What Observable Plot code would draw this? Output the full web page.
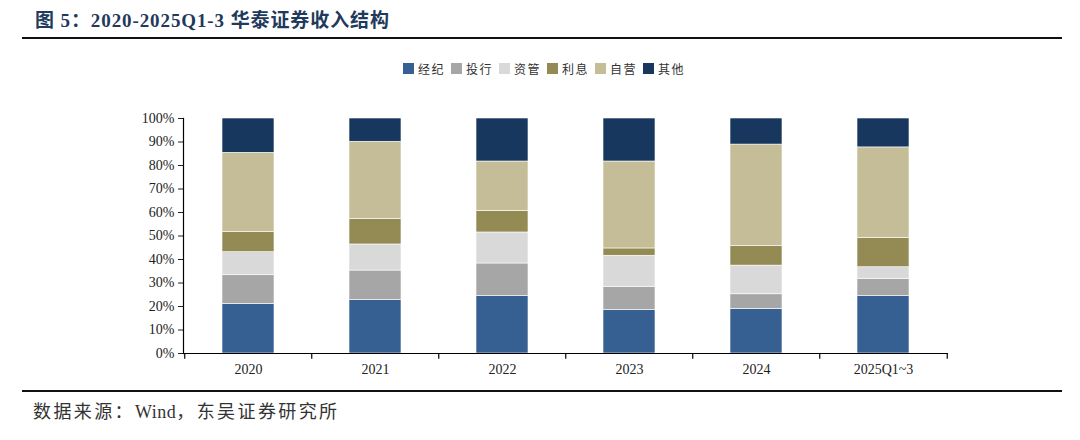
<!DOCTYPE html>
<html>
<head>
<meta charset="utf-8">
<script src="https://cdn.jsdelivr.net/npm/d3@7"></script>
<script src="https://cdn.jsdelivr.net/npm/@observablehq/plot@0.6"></script>
<style>
  html, body { margin: 0; padding: 0; background: #fff; }
  #wrap { position: relative; width: 1080px; height: 440px; overflow: hidden; font-family: "Liberation Serif", "Noto Sans CJK SC", serif; }
  #title { position: absolute; left: 35px; top: 5px; font-size: 19px; font-weight: bold; color: #1f3a5c; letter-spacing: 0.9px; white-space: nowrap; font-family: "Liberation Serif", "Noto Sans CJK SC", serif; }
  #topline { position: absolute; left: 22px; width: 1040px; top: 37px; height: 2px; background: #111; }
  #legend { position: absolute; left: 403px; top: 60px; display: flex; align-items: center; font-size: 12px; color: #333; font-family: "Noto Sans CJK SC", sans-serif; letter-spacing: 1.5px; }
  #legend .item { display: flex; align-items: center; margin-right: 6px; }
  #legend .sw { width: 11px; height: 11px; margin-right: 4px; }
  #chart { position: absolute; left: 0; top: 80px; }
  #botline { position: absolute; left: 22px; width: 1040px; top: 390px; height: 2px; background: #111; }
  #source { position: absolute; left: 33px; top: 397px; font-size: 18px; color: #333; letter-spacing: 2.4px; white-space: nowrap; font-family: "Noto Sans CJK SC", "Liberation Serif", serif; }
  #source .lat { font-family: "Liberation Serif", serif; letter-spacing: 0.5px; }
</style>
</head>
<body>
<div id="wrap">
  <div id="title">图 5：2020-2025Q1-3 华泰证券收入结构</div>
  <div id="topline"></div>
  <div id="legend"></div>
  <div id="chart"></div>
  <div id="botline"></div>
  <div id="source">数据来源：<span class="lat">Wind</span>，东吴证券研究所</div>
</div>
<script>
// ---- data (shares, %) ----
const categories = ["2020", "2021", "2022", "2023", "2024", "2025Q1~3"];
const seriesNames = ["经纪", "投行", "资管", "利息", "自营", "其他"];
const jingji  = [21.1, 22.7, 24.4, 18.6, 19.0, 24.4];
const touhang = [12.2, 12.6, 13.9,  9.8,  6.2,  7.4];
const ziguan  = [ 9.8, 11.1, 13.2, 13.2, 12.2,  4.9];
const lixi    = [ 8.7, 10.8,  9.2,  3.1,  8.3, 12.5];
const ziying  = [33.6, 32.9, 21.0, 37.0, 43.2, 38.5];
const qita    = [14.6,  9.9, 18.3, 18.3, 11.1, 12.3];
const yTicks = [0, 10, 20, 30, 40, 50, 60, 70, 80, 90, 100];
const colors = ["#376092", "#a6a6a6", "#d9d9d9", "#948a54", "#c4bd97", "#17375e"];

const seriesValues = [jingji, touhang, ziguan, lixi, ziying, qita];
const table = [];
seriesNames.forEach((s, si) => {
  categories.forEach((c, ci) => {
    table.push({ cat: c, series: s, value: seriesValues[si][ci] });
  });
});

// legend
const legend = document.getElementById("legend");
seriesNames.forEach((s, i) => {
  const it = document.createElement("div");
  it.className = "item";
  it.innerHTML = `<div class="sw" style="background:${colors[i]}"></div><span>${s}</span>`;
  legend.appendChild(it);
});

const W = 1080, ML = 183, MR = 132;
const step = (W - ML - MR) / categories.length;

const chart = Plot.plot({
  width: W,
  height: 303,
  marginLeft: ML,
  marginRight: MR,
  marginTop: 38,
  marginBottom: 30,
  style: { fontFamily: "'Liberation Serif', serif", background: "#fff", overflow: "visible" },
  x: { type: "band", domain: categories, paddingInner: 0.59, paddingOuter: 0.295, label: null },
  y: { domain: [0, 100], label: null },
  color: { domain: seriesNames, range: colors },
  marks: [
    Plot.barY(table, Plot.stackY({ x: "cat", y: "value", fill: "series", order: null, stroke: "#fff", strokeWidth: 0.6 })),
    Plot.axisY({ ticks: yTicks, tickFormat: d => d + "%", tickSize: 5, tickPadding: 4, fontSize: 14, color: "#222", label: null }),
    Plot.axisX({ tickSize: 0, tickPadding: 11, fontSize: 14, color: "#222", label: null }),
    Plot.frame({ anchor: "left", stroke: "#000", strokeWidth: 1.2 }),
    Plot.ruleY([0], { stroke: "#000", strokeWidth: 1.2 }),
    Plot.ruleX(categories, { x: d => d, y1: 0, y2: -2.4, dx: -step / 2, stroke: "#000", strokeWidth: 1.2 }),
    Plot.ruleX(categories.slice(-1), { x: d => d, y1: 0, y2: -2.4, dx: step / 2, stroke: "#000", strokeWidth: 1.2 })
  ]
});
document.getElementById("chart").appendChild(chart);
</script>
</body>
</html>
